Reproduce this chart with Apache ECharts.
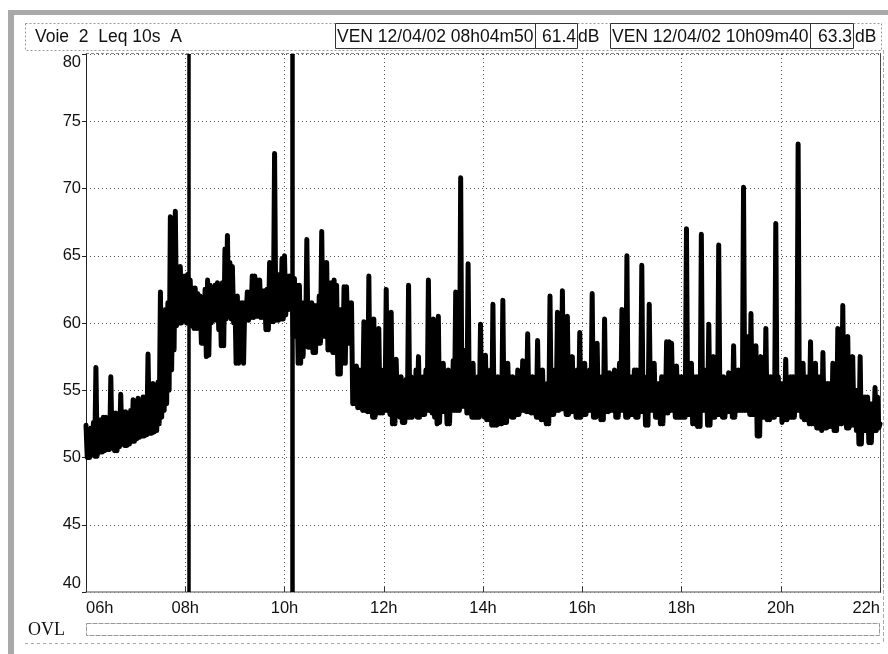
<!DOCTYPE html>
<html>
<head>
<meta charset="utf-8">
<script src="https://cdn.jsdelivr.net/npm/echarts@6/dist/echarts.min.js"></script>
<style>
html,body{margin:0;padding:0;background:#fff;}
#chart{width:888px;height:654px;}
</style>
</head>
<body>
<div id="chart"></div>
<script>
// ---- data: Leq 10s A, per 3-minute window, highest (hi) and lowest (lo) level ----
const startHour = 6;
const windowHours = 0.05;
const hi06 = [52.4, 51.8, 52.2, 52.6, 56.7, 52.8, 52.8, 53.0, 53.0, 52.6, 56.0, 53.0, 53.3, 53.0, 54.7, 53.4, 53.4, 53.2, 53.5, 54.3];
const lo06 = [50.0, 50.0, 50.2, 50.1, 50.1, 50.4, 50.4, 50.5, 50.6, 50.6, 50.8, 50.5, 50.5, 50.8, 51.0, 50.9, 50.9, 51.0, 51.2, 51.2];
const hi07 = [54.2, 54.4, 54.0, 54.5, 54.5, 57.7, 55.0, 55.5, 55.3, 55.6, 62.3, 59.0, 61.0, 61.5, 67.9, 63.0, 68.3, 64.0, 64.2, 63.5];
const lo07 = [51.4, 51.5, 51.6, 51.6, 51.7, 51.8, 51.8, 51.9, 52.0, 52.5, 53.0, 53.5, 54.0, 55.0, 56.5, 58.0, 59.8, 60.0, 60.0, 60.2];
const hi08 = [63.5, 63.6, 63.2, 62.6, 62.6, 62.2, 62.0, 61.8, 62.5, 63.2, 62.8, 62.5, 62.8, 63.0, 62.5, 63.0, 65.5, 66.5, 64.5, 64.2];
const lo08 = [60.0, 60.0, 59.8, 59.6, 59.6, 59.6, 58.5, 58.5, 57.5, 57.6, 60.0, 60.2, 60.2, 59.5, 58.3, 58.3, 60.3, 60.5, 60.3, 60.0];
const hi09 = [62.0, 62.0, 61.5, 61.5, 61.5, 62.3, 62.3, 63.5, 63.5, 63.2, 63.2, 62.4, 62.4, 62.5, 64.5, 63.0, 72.6, 63.5, 63.6, 64.8];
const lo09 = [57.0, 57.0, 57.2, 57.0, 60.2, 60.2, 60.4, 60.4, 60.5, 60.5, 60.4, 60.4, 59.5, 59.5, 60.1, 60.1, 60.2, 60.2, 60.3, 60.3];
const hi10 = [65.0, 63.5, 63.5, 63.3, 63.3, 62.8, 62.8, 61.5, 61.5, 66.2, 61.5, 61.5, 61.3, 61.3, 62.0, 66.8, 64.5, 64.5, 63.0, 63.0];
const lo10 = [60.6, 61.0, 61.0, 59.0, 59.0, 57.0, 57.0, 57.5, 58.5, 58.2, 58.2, 57.8, 57.8, 58.5, 58.5, 59.0, 59.0, 58.0, 58.0, 57.8];
const hi11 = [63.2, 62.8, 61.0, 61.0, 62.7, 62.7, 61.5, 61.5, 56.8, 56.8, 56.5, 56.5, 60.1, 56.0, 63.5, 56.0, 60.3, 56.0, 59.6, 56.0];
const lo11 = [57.8, 56.2, 56.2, 57.0, 57.0, 58.5, 58.5, 54.0, 54.0, 53.7, 53.7, 53.5, 53.5, 53.4, 53.4, 53.0, 53.0, 53.3, 53.3, 53.3];
const hi12 = [56.5, 62.5, 56.0, 60.8, 56.2, 57.3, 55.8, 56.0, 55.5, 55.8, 62.8, 56.0, 55.5, 56.5, 57.5, 55.5, 56.0, 56.5, 63.2, 56.0];
const lo12 = [53.5, 53.5, 53.2, 52.5, 52.5, 53.8, 53.0, 52.6, 52.6, 53.0, 53.0, 53.0, 53.6, 53.0, 53.0, 53.2, 53.2, 53.5, 53.5, 53.3];
const hi13 = [60.3, 56.0, 60.5, 56.0, 57.0, 55.5, 56.5, 55.5, 57.2, 62.3, 58.5, 70.8, 58.0, 56.0, 64.4, 56.0, 57.0, 55.5, 56.0, 59.9];
const lo13 = [53.0, 52.5, 52.6, 53.4, 53.4, 52.5, 52.5, 53.5, 53.5, 53.5, 53.5, 53.8, 53.8, 53.3, 53.3, 53.0, 53.0, 53.0, 53.0, 53.2];
const hi14 = [56.0, 57.6, 55.5, 56.5, 61.4, 56.0, 56.0, 55.5, 61.7, 56.0, 57.0, 56.0, 56.0, 55.5, 56.5, 56.0, 57.2, 56.0, 59.2, 56.0];
const lo14 = [53.0, 52.8, 52.8, 52.4, 52.4, 52.4, 52.5, 52.5, 52.6, 52.6, 53.5, 53.0, 53.0, 53.2, 53.2, 53.5, 53.5, 53.4, 53.4, 53.3];
const hi15 = [56.0, 55.5, 58.7, 55.5, 56.5, 55.0, 55.5, 62.0, 56.0, 56.5, 60.8, 56.0, 62.4, 56.0, 60.5, 56.0, 57.5, 56.0, 56.5, 59.3];
const lo15 = [53.3, 53.0, 53.0, 52.8, 52.8, 52.5, 52.5, 53.2, 53.2, 53.5, 53.5, 53.6, 53.6, 53.2, 53.2, 53.4, 53.4, 53.0, 53.0, 53.0];
const hi16 = [56.0, 57.0, 56.0, 56.5, 62.2, 56.0, 58.5, 55.5, 56.0, 60.3, 56.0, 56.3, 55.5, 56.5, 56.0, 57.0, 61.0, 56.0, 65.0, 56.0];
const lo16 = [53.2, 53.2, 53.5, 53.5, 53.0, 53.0, 53.2, 52.8, 52.8, 53.4, 53.4, 53.5, 53.5, 53.0, 53.0, 53.5, 53.5, 53.0, 53.0, 53.2];
const hi17 = [56.0, 56.5, 56.5, 55.5, 64.3, 56.0, 55.5, 61.4, 56.0, 57.0, 55.5, 55.5, 56.0, 56.0, 58.6, 58.6, 58.5, 56.0, 56.8, 56.0];
const lo17 = [53.2, 53.0, 53.0, 53.4, 53.4, 52.4, 52.4, 53.5, 53.5, 53.0, 53.0, 52.5, 52.5, 53.3, 53.3, 53.5, 53.5, 53.0, 53.0, 53.0];
const hi18 = [56.0, 56.0, 67.0, 56.0, 57.0, 56.0, 56.0, 56.0, 66.6, 56.5, 56.5, 59.9, 56.0, 57.5, 56.0, 65.8, 56.0, 56.0, 55.5, 56.3];
const lo18 = [53.0, 53.0, 53.2, 53.2, 52.5, 52.5, 52.3, 52.3, 53.5, 53.5, 52.4, 52.4, 53.0, 53.0, 53.2, 53.2, 53.0, 53.0, 53.4, 53.4];
const hi19 = [56.0, 58.3, 56.0, 56.5, 56.0, 70.1, 58.5, 59.0, 60.7, 58.0, 58.3, 56.0, 57.5, 56.0, 59.6, 56.0, 56.0, 56.0, 67.4, 56.0];
const lo19 = [53.0, 53.0, 53.5, 53.5, 53.5, 53.5, 53.5, 53.2, 53.2, 53.2, 51.6, 51.6, 53.0, 53.0, 52.8, 52.8, 53.0, 53.0, 53.2, 53.2];
const hi20 = [55.5, 55.5, 57.3, 55.8, 56.0, 56.0, 56.0, 73.3, 56.0, 57.0, 56.0, 56.0, 58.6, 56.0, 57.0, 56.0, 56.0, 57.8, 55.5, 55.5];
const lo20 = [52.6, 52.8, 52.8, 53.0, 53.0, 53.0, 53.5, 53.5, 53.0, 52.8, 52.8, 52.5, 52.5, 52.5, 52.2, 52.2, 52.0, 52.2, 52.2, 52.3];
const hi21 = [55.5, 57.0, 55.5, 59.6, 55.5, 61.3, 55.5, 59.0, 55.0, 57.5, 55.0, 55.0, 57.5, 54.5, 54.5, 54.5, 54.0, 54.0, 55.2, 54.5];
const lo21 = [52.3, 52.0, 52.0, 52.5, 52.5, 53.0, 52.2, 52.2, 52.4, 52.4, 52.0, 51.0, 51.0, 52.0, 52.0, 51.1, 51.1, 52.0, 52.0, 52.2];
const lastLevel = 52.5; // at 22h00

const xTickHours = [6, 8, 10, 12, 14, 16, 18, 20, 22];
const yTicks = [40, 45, 50, 55, 60, 65, 70, 75, 80];
const headerTitle = 'Voie  2  Leq 10s  A';
const cursorLabels = ['VEN 12/04/02 08h04m50', 'VEN 12/04/02 10h09m40'];
const cursorValues = ['61.4', '63.3'];
const cursorHours = [8 + 4/60 + 50/3600, 10 + 9/60 + 40/3600];

// ---- build series: each window contributes its high then its low ----
const hiBlocks = [hi06,hi07,hi08,hi09,hi10,hi11,hi12,hi13,hi14,hi15,hi16,hi17,hi18,hi19,hi20,hi21];
const loBlocks = [lo06,lo07,lo08,lo09,lo10,lo11,lo12,lo13,lo14,lo15,lo16,lo17,lo18,lo19,lo20,lo21];
const seriesData = [];
hiBlocks.forEach((hb, b) => {
  hb.forEach((v, i) => {
    const t = startHour + b + i * windowHours;
    seriesData.push([+t.toFixed(4), v]);
    seriesData.push([+(t + windowHours / 2).toFixed(4), loBlocks[b][i]]);
  });
});
seriesData.push([xTickHours[xTickHours.length - 1], lastLevel]);

const FONT = "'Liberation Sans', Arial, sans-serif";
const chart = echarts.init(document.getElementById('chart'), null, {renderer:'canvas'});

const G = {left:86, right:880, top:54, bottom:592};
const HF = '17.5px ' + FONT;

const graphics = [
  {type:'rect', shape:{x:8,y:10,width:880,height:5}, style:{fill:'#a9a9a9'}, silent:true},
  {type:'rect', shape:{x:8,y:10,width:6,height:644}, style:{fill:'#a9a9a9'}, silent:true},
  {type:'rect', shape:{x:25.5,y:23.5,width:856,height:27}, style:{fill:'none',stroke:'#9a9a9a',lineWidth:1,lineDash:[2,2]}, silent:true},
  {type:'rect', shape:{x:335.5,y:23.5,width:200,height:25}, style:{fill:'none',stroke:'#333',lineWidth:1}, silent:true},
  {type:'rect', shape:{x:535.5,y:23.5,width:42,height:25}, style:{fill:'none',stroke:'#333',lineWidth:1}, silent:true},
  {type:'rect', shape:{x:610.5,y:23.5,width:200,height:25}, style:{fill:'none',stroke:'#333',lineWidth:1}, silent:true},
  {type:'rect', shape:{x:810.5,y:23.5,width:43,height:25}, style:{fill:'none',stroke:'#333',lineWidth:1}, silent:true},
  {type:'text', x:35, y:37, style:{text:headerTitle, font:HF, fill:'#111', textVerticalAlign:'middle'}, silent:true},
  {type:'text', x:337, y:37, style:{text:cursorLabels[0], font:HF, fill:'#111', textVerticalAlign:'middle'}, silent:true},
  {type:'text', x:576, y:37, style:{text:cursorValues[0], font:HF, fill:'#111', textAlign:'right', textVerticalAlign:'middle'}, silent:true},
  {type:'text', x:578, y:37, style:{text:'dB', font:HF, fill:'#111', textVerticalAlign:'middle'}, silent:true},
  {type:'text', x:612, y:37, style:{text:cursorLabels[1], font:HF, fill:'#111', textVerticalAlign:'middle'}, silent:true},
  {type:'text', x:852, y:37, style:{text:cursorValues[1], font:HF, fill:'#111', textAlign:'right', textVerticalAlign:'middle'}, silent:true},
  {type:'text', x:855, y:37, style:{text:'dB', font:HF, fill:'#111', textVerticalAlign:'middle'}, silent:true},
  {type:'line', shape:{x1:86,y1:53.5,x2:880,y2:53.5}, style:{stroke:'#888',lineWidth:1,lineDash:[3,2]}, silent:true},
  {type:'line', shape:{x1:880.5,y1:53,x2:880.5,y2:593}, style:{stroke:'#444',lineWidth:1}, silent:true},
  {type:'line', shape:{x1:883.5,y1:50,x2:883.5,y2:644}, style:{stroke:'#aaa',lineWidth:1,lineDash:[4,2]}, silent:true},
  {type:'text', x:28, y:630, style:{text:'OVL', font:"18px 'Liberation Serif', 'Times New Roman', serif", fill:'#111', textVerticalAlign:'middle'}, silent:true},
  {type:'rect', shape:{x:86.5,y:623.5,width:793,height:12}, style:{fill:'none',stroke:'#999',lineWidth:1,lineDash:[5,1]}, silent:true},
  {type:'line', shape:{x1:25,y1:643.5,x2:880,y2:643.5}, style:{stroke:'#aaa',lineWidth:1,lineDash:[3,3]}, silent:true}
];

const option = {
  animation:false,
  backgroundColor:'#fff',
  grid:{left:G.left, right:888-G.right, top:G.top, bottom:654-G.bottom, show:false, outerBoundsMode:'none', containLabel:false},
  xAxis:{
    type:'value', min:xTickHours[0], max:xTickHours[xTickHours.length-1], interval:2,
    axisLine:{show:true, lineStyle:{color:'#8a8a8a', width:1.5}},
    axisTick:{show:true, inside:true, length:5, lineStyle:{color:'#333'}},
    axisLabel:{show:true, margin:8, fontSize:16.5, fontFamily:FONT, color:'#111',
      alignMinLabel:'left', alignMaxLabel:'right',
      formatter:v => (v<10?'0':'') + v + 'h'},
    splitLine:{show:true, lineStyle:{color:'#555', width:1, type:[1,3]}}
  },
  yAxis:{
    type:'value', min:yTicks[0], max:yTicks[yTicks.length-1], interval:5,
    axisLine:{show:true, lineStyle:{color:'#222', width:1}},
    axisTick:{show:true, inside:false, length:4, lineStyle:{color:'#222'}},
    axisLabel:{show:true, margin:5, fontSize:16.5, fontFamily:FONT, color:'#111',
      verticalAlignMinLabel:'bottom', verticalAlignMaxLabel:'top'},
    splitLine:{show:true, lineStyle:{color:'#555', width:1, type:[1,3]}}
  },
  series:[{
    type:'line', data:seriesData, showSymbol:false, symbol:'none', sampling:null, large:false, progressive:0,
    lineStyle:{color:'#000', width:5, join:'round', cap:'round'},
    markLine:{silent:true, symbol:['none','none'], label:{show:false},
      lineStyle:{color:'#000', type:'solid'},
      data:[{xAxis:cursorHours[0], lineStyle:{width:3.5}}, {xAxis:cursorHours[1], lineStyle:{width:4.5}}]},
    z:3
  }],
  graphic:graphics
};
chart.setOption(option);
</script>
</body>
</html>
